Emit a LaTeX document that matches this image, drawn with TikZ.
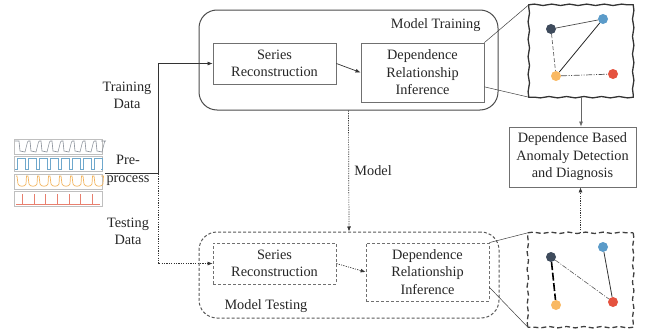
\documentclass[tikz,border=0pt]{standalone}
\usepackage{fontspec}
\setmainfont{Liberation Serif}
\usetikzlibrary{arrows.meta,decorations.pathmorphing,calc}
\definecolor{boxgray}{HTML}{707070}
\definecolor{cdark}{HTML}{3E4B5C}
\definecolor{cblue}{HTML}{5B9BC9}
\definecolor{corange}{HTML}{F9B963}
\definecolor{cred}{HTML}{E5523F}
\definecolor{wgray}{HTML}{8A9099}
\definecolor{wblue}{HTML}{6FA8CC}
\definecolor{worange}{HTML}{F2B45E}
\definecolor{wred}{HTML}{E8806F}
\begin{document}
\begin{tikzpicture}[x=1pt,y=-1pt,
  font=\fontsize{14.3}{17.5}\selectfont, text=black!85,
  box/.style={draw=boxgray, line width=0.8pt, minimum width=123pt, align=center, inner sep=0pt},
  tbox/.style={box, dash pattern=on 3pt off 2pt},
  frame/.style={draw=black!70, line width=1pt, rounded corners=18pt, inner sep=0pt},
  arr/.style={-{Latex[length=5pt,width=4pt]}, line width=0.7pt, draw=black!80},
  darr/.style={arr, dash pattern=on 1.2pt off 1.2pt},
  lens/.style={draw=black!75, line width=0.5pt},
  mag/.style={minimum width=104pt, minimum height=92pt, inner sep=0pt},
  magline/.style={draw=black!80, line width=1.3pt, line cap=round,
     decorate, decoration={snake, segment length=17.5pt, amplitude=0.7pt}},
  tmagline/.style={magline, draw=black!75, dash pattern=on 5pt off 3pt, line cap=butt},
  dot/.style={circle, minimum size=10pt, inner sep=0pt},
  panel/.style={draw=black!25, line width=0.8pt}
]
\useasboundingbox (0,0) rectangle (656,332);

% ---- frames
\node[frame, minimum width=299pt, minimum height=100pt] (train) at (348.5,60) {};
\node[frame, dash pattern=on 3pt off 2pt, draw=black!65, minimum width=300pt, minimum height=86pt] (test) at (349,275) {};
\node[anchor=east] (trlab) at (484,25) {Model Training};
\node[anchor=west] (telab) at (221,306) {Model Testing};

% ---- boxes
\node[box, minimum height=41pt] (sr) at (274.5,63.5) {Series\\Reconstruction};
\node[box, minimum height=59pt] (dri) at (422.5,72.5) {Dependence\\Relationship\\Inference};
\node[tbox, minimum height=41pt] (tsr) at (274.5,263.5) {Series\\Reconstruction};
\node[tbox, minimum height=58pt] (tdri) at (427.5,272) {Dependence\\Relationship\\Inference};
\node[box, minimum width=127pt, minimum height=60pt] (db) at (572.5,157) {Dependence Based\\Anomaly Detection\\and Diagnosis};

% ---- magnifiers
\node[mag] (tm) at (581,51) {};
\draw[magline] (tm.north west) -- (tm.north east);
\draw[magline] (tm.north east) -- (tm.south east);
\draw[magline] (tm.south east) -- (tm.south west);
\draw[magline] (tm.south west) -- (tm.north west);
\node[mag, minimum width=105pt, minimum height=94pt] (bm) at (580.5,280) {};
\draw[tmagline] (bm.north west) -- (bm.north east);
\draw[tmagline] (bm.north east) -- (bm.south east);
\draw[tmagline] (bm.south east) -- (bm.south west);
\draw[tmagline] (bm.south west) -- (bm.north west);

\draw[lens] (dri.north east) -- (tm.north west);
\draw[lens] ($(dri.north east)!0.74!(dri.south east)$) -- (tm.south west);
\draw[lens] (tdri.north east) -- (bm.north west);
\draw[lens] ($(tdri.north east)!0.76!(tdri.south east)$) -- (bm.south west);

% top graph
\node[dot, fill=cdark] (a1) at (551,29) {};
\node[dot, fill=cblue] (b1) at (603,19) {};
\node[dot, fill=corange] (c1) at (556,76) {};
\node[dot, fill=cred] (d1) at (613,74) {};
\draw[black!70, line width=0.7pt] (a1) -- (b1);
\draw[black!85, line width=0.8pt] (b1) -- (c1);
\draw[black!60, line width=0.7pt, dash pattern=on 4pt off 2pt] (a1) -- (c1);
\draw[black!70, line width=0.7pt, dash pattern=on 6pt off 1.5pt on 1pt off 1.5pt on 1pt off 1.5pt] (c1) -- (d1);

% bottom graph
\node[dot, fill=cdark] (a2) at (551,257) {};
\node[dot, fill=cblue] (b2) at (603,247) {};
\node[dot, fill=corange] (c2) at (556,305) {};
\node[dot, fill=cred] (d2) at (613,302) {};
\draw[black, line width=1.6pt, dash pattern=on 8pt off 2.5pt] (a2) -- (c2);
\draw[black!65, line width=0.6pt, dash pattern=on 5pt off 1.5pt on 1pt off 1.5pt] (a2) -- (d2);
\draw[black!80, line width=0.8pt] (b2) -- (d2);

% ---- series panels
\begin{scope}
\draw[panel] (14,139) rectangle (102,154);
\draw[panel] (14,156.5) rectangle (102,171);
\draw[panel] (14,174) rectangle (102,189);
\draw[panel] (14,191.5) rectangle (102,206);
% gray wave
\draw[wgray, line width=0.6pt] (15,141)
  \foreach \k in {0,...,7} { -- ({19+11*\k},141) -- ({20+11*\k},151) -- ({25+11*\k},152) -- ({27.5+11*\k},142) -- ({28.5+11*\k},141) } -- (101,141);
% blue square wave
\draw[wblue, line width=0.7pt] (15,169)
  \foreach \k in {0,...,7} { -- ({17+11*\k},169) -- ({17+11*\k},158.5) -- ({25.5+11*\k},158.5) -- ({25.5+11*\k},169) } -- (101,169);
% orange wave
\draw[worange, line width=0.7pt] (16,176)
  \foreach \k in {0,...,7} { -- ({17+11*\k},176) -- ({18+11*\k},184) .. controls ({19+11*\k},187) and ({25+11*\k},187) .. ({26+11*\k},184) -- ({26.5+11*\k},176) } -- (101,176);
% red spikes
\draw[wred, line width=0.6pt] (16,204.5)
  \foreach \k in {0,...,6} { -- ({22.5+11.6*\k},204.5) -- ({22.5+11.6*\k},194) -- ({22.5+11.6*\k},204.5) } -- (100,204.5);
\end{scope}

% ---- labels
\node[align=center] (ltd) at (127,95.5) {Training\\Data};
\node[align=center] (lpp) at (128,170.5) {Pre-\\process};
\node[align=center] (lte) at (128,231.5) {Testing\\Data};

% ---- connectors
\coordinate (pp) at (105,173.5);
\coordinate (split) at (158,173.5);
\draw[line width=0.7pt, black!80] (pp) -- (split);
\draw[arr] (split) |- (sr.west);
\draw[darr] (split) |- (tsr.west);
\draw[arr] (sr.east) -- (dri.west);
\draw[darr] (tsr.east) -- (tdri.west);
\draw[darr] (train.south) -- node[right=2pt] (lmodel) {Model} (test.north);
\draw[arr, draw=black!60] (tm.south) -- (tm.south |- db.north);
\draw[darr] (bm.north) -- (bm.north |- db.south);
\end{tikzpicture}
\end{document}
